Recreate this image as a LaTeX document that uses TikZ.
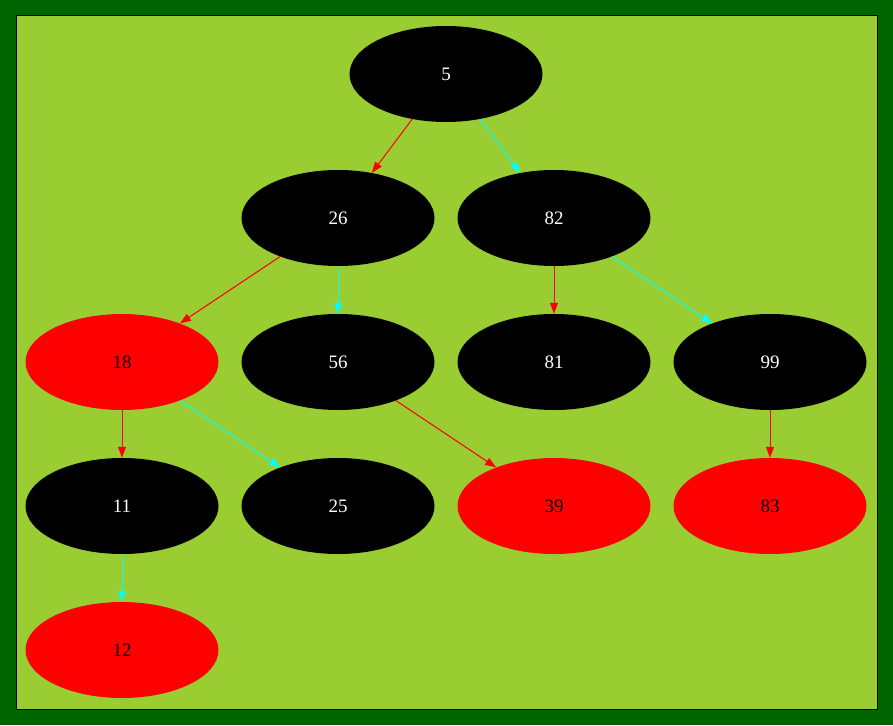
\documentclass[tikz,border=0pt]{standalone}
\usepackage{fontspec}
\setmainfont{Liberation Serif}
\usepackage{tikz}
\usetikzlibrary{shapes,arrows.meta}
\definecolor{bgborder}{RGB}{0, 100, 0}
\definecolor{bgfill}{RGB}{154, 205, 50}
\definecolor{edgecyan}{RGB}{0, 255, 255}
\definecolor{edgered}{RGB}{255, 0, 0}

\begin{document}
\begin{tikzpicture}[x=1pt, y=-1pt,
    blacknode/.style={ellipse, fill=black, text=white, minimum width=193pt, minimum height=96pt, inner sep=0pt, font=\fontsize{19}{22}\selectfont},
    rednode/.style={ellipse, fill=edgered, text=black, minimum width=193pt, minimum height=96pt, inner sep=0pt, font=\fontsize{19}{22}\selectfont},
    leftedge/.style={edgered, line width=1pt, -{Triangle[length=11pt, width=8pt]}},
    rightedge/.style={edgecyan, line width=1pt, -{Triangle[length=11pt, width=8pt]}}]
        \fill [bgborder] (0,0) rectangle (893,725);
        \draw [fill=bgfill, draw=black, line width=1pt] (16,16) rectangle (877,709);
        \node [blacknode] (n5) at (446,74) {5};
        \node [blacknode] (n26) at (338,218) {26};
        \node [blacknode] (n82) at (554,218) {82};
        \node [rednode] (n18) at (122,362) {18};
        \node [blacknode] (n56) at (338,362) {56};
        \node [blacknode] (n81) at (554,362) {81};
        \node [blacknode] (n99) at (770,362) {99};
        \node [blacknode] (n11) at (122,506) {11};
        \node [blacknode] (n25) at (338,506) {25};
        \node [rednode] (n39) at (554,506) {39};
        \node [rednode] (n83) at (770,506) {83};
        \node [rednode] (n12) at (122,650) {12};
        \draw [leftedge] (n5) -- (n26);
        \draw [rightedge] (n5) -- (n82);
        \draw [leftedge] (n26) -- (n18);
        \draw [rightedge] (n26) -- (n56);
        \draw [leftedge] (n82) -- (n81);
        \draw [rightedge] (n82) -- (n99);
        \draw [leftedge] (n18) -- (n11);
        \draw [rightedge] (n18) -- (n25);
        \draw [leftedge] (n56) -- (n39);
        \draw [leftedge] (n99) -- (n83);
        \draw [rightedge] (n11) -- (n12);
    \end{tikzpicture}
\end{document}
